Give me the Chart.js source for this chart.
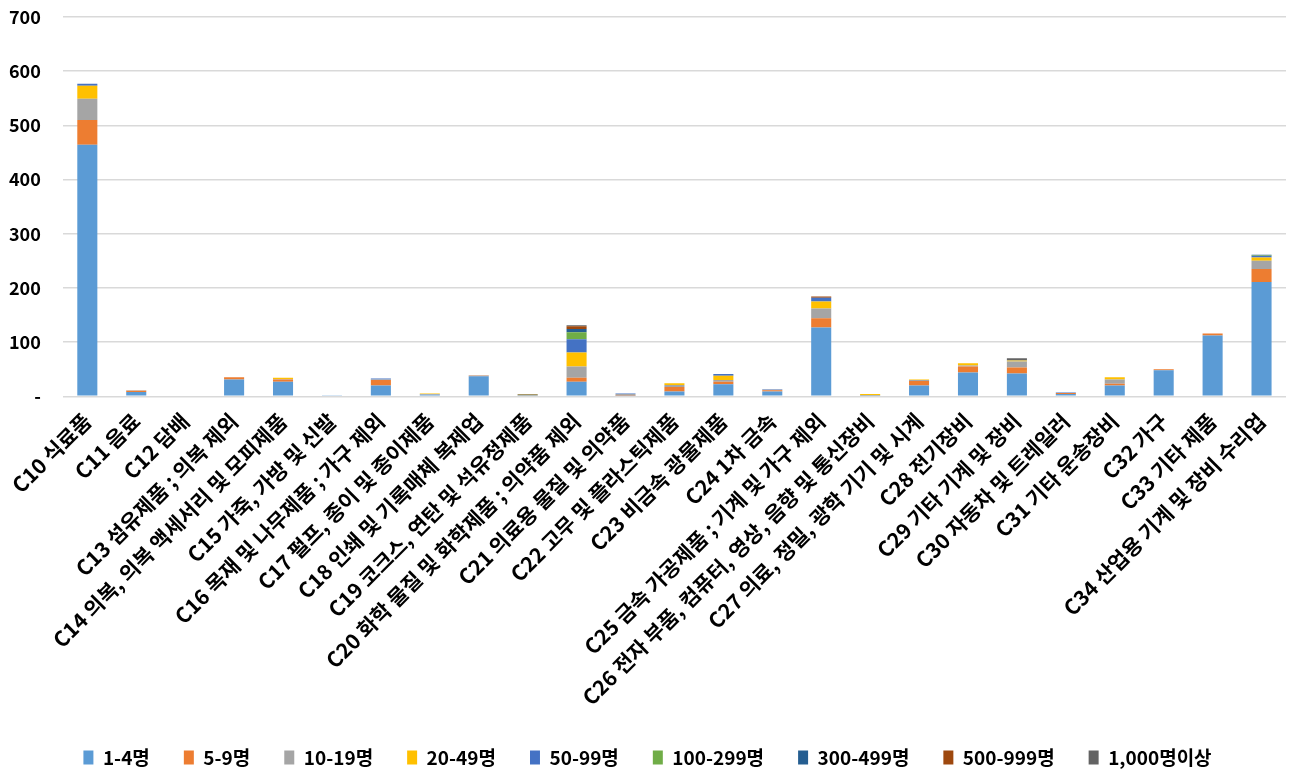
<!DOCTYPE html>
<html>
<head>
<meta charset="utf-8">
<script src="https://cdn.jsdelivr.net/npm/chart.js@4"></script>
<style>
  body { margin: 0; background: #fff; }
  #wrap { width: 1298px; height: 783px; }
</style>
</head>
<body>
<div id="wrap"><canvas id="bizChart"></canvas></div>
<script>
var categories = [
  'C10 식료품', 'C11 음료', 'C12 담배', 'C13 섬유제품 ; 의복 제외',
  'C14 의복, 의복 액세서리 및 모피제품', 'C15 가죽, 가방 및 신발',
  'C16 목재 및 나무제품 ; 가구 제외', 'C17 펄프, 종이 및 종이제품',
  'C18 인쇄 및 기록매체 복제업', 'C19 코크스, 연탄 및 석유정제품',
  'C20 화학 물질 및 화학제품 ; 의약품 제외', 'C21 의료용 물질 및 의약품',
  'C22 고무 및 플라스틱제품', 'C23 비금속 광물제품', 'C24 1차 금속',
  'C25 금속 가공제품 ; 기계 및 가구 제외', 'C26 전자 부품, 컴퓨터, 영상, 음향 및 통신장비',
  'C27 의료, 정밀, 광학 기기 및 시계', 'C28 전기장비', 'C29 기타 기계 및 장비',
  'C30 자동차 및 트레일러', 'C31 기타 운송장비', 'C32 가구', 'C33 기타 제품',
  'C34 산업용 기계 및 장비 수리업'
];

var seriesNames = ['1-4명', '5-9명', '10-19명', '20-49명', '50-99명', '100-299명', '300-499명', '500-999명', '1,000명이상'];

//            C10  C11 C12 C13 C14 C15 C16 C17 C18 C19 C20 C21 C22 C23 C24 C25  C26 C27 C28 C29 C30 C31 C32 C33  C34
var s1to4     = [464, 8, 0, 31, 27, 2, 20, 3, 37, 1, 27, 1, 9, 22, 9, 127, 1, 20, 44, 42, 4, 20, 48, 112, 211];
var s5to9     = [46, 2, 0, 4, 4, 0, 10, 0, 1, 0, 7, 1, 8, 5, 2, 17, 0, 8, 11, 11, 2, 3, 2, 4, 24];
var s10to19   = [39, 1, 0, 0, 1, 0, 1, 1, 1, 1, 21, 2, 4, 3, 1, 18, 1, 2, 2, 11, 0, 8, 0, 0, 15];
var s20to49   = [24, 0, 0, 0, 2, 0, 0, 1, 0, 1, 26, 0, 3, 8, 0, 13, 2, 1, 4, 2, 0, 4, 0, 0, 6];
var s50to99   = [4, 0, 0, 0, 0, 0, 2, 0, 0, 0, 24, 1, 0, 3, 1, 7, 0, 0, 0, 1, 1, 0, 0, 0, 3];
var s100to299 = [0, 0, 0, 0, 0, 0, 0, 0, 0, 0, 13, 0, 0, 0, 0, 0, 0, 0, 0, 0, 0, 0, 0, 0, 1];
var s300to499 = [0, 0, 0, 0, 0, 0, 0, 0, 0, 0, 6, 0, 0, 0, 0, 0, 0, 0, 0, 0, 0, 0, 0, 0, 1];
var s500to999 = [0, 0, 0, 0, 0, 0, 0, 0, 0, 0, 5, 0, 0, 0, 0, 2, 0, 0, 0, 0, 0, 0, 0, 0, 0];
var s1000plus = [0, 0, 0, 0, 0, 0, 0, 0, 0, 1, 2, 0, 0, 0, 0, 0, 0, 0, 0, 3, 0, 0, 0, 0, 0];

var yTicks = [0, 100, 200, 300, 400, 500, 600, 700];

var colors = ['#5B9BD5', '#ED7D31', '#A5A5A5', '#FFC000', '#4472C4', '#70AD47', '#255E91', '#9E480E', '#636363'];
var seriesData = [s1to4, s5to9, s10to19, s20to49, s50to99, s100to299, s300to499, s500to999, s1000plus];

var datasets = [];
for (var i = 0; i < seriesNames.length; i++) {
  datasets.push({
    label: seriesNames[i],
    data: seriesData[i],
    backgroundColor: colors[i],
    borderWidth: 0,
    categoryPercentage: 1,
    barPercentage: 0.41
  });
}

var family = "'Noto Sans CJK KR', 'Noto Sans', sans-serif";
var yFont = { family: family, size: 18, weight: 'bold' };
var xFont = { family: family, size: 21, weight: 'bold' };
var legendFont = { family: family, size: 19, weight: 'bold' };
var yPad = 22;

var ctx = document.getElementById('bizChart');
var chart = new Chart(ctx, {
  type: 'bar',
  data: { labels: categories, datasets: datasets },
  options: {
    responsive: true,
    maintainAspectRatio: false,
    animation: false,
    layout: { padding: { left: 9, right: 12, top: 4, bottom: 6 } },
    plugins: {
      tooltip: { enabled: false },
      legend: {
        position: 'bottom',
        labels: { font: legendFont, color: '#000', boxWidth: 10, boxHeight: 14, padding: 34 }
      }
    },
    scales: {
      x: {
        stacked: true,
        grid: { display: false },
        border: { display: false },
        ticks: { font: xFont, color: '#000', minRotation: 45, maxRotation: 45, autoSkip: false, padding: 4 },
        afterFit: function(axis) {
          // let the first slanted label hang left instead of pushing the plot right
          axis.paddingLeft = 0;
        }
      },
      y: {
        stacked: true,
        min: 0,
        max: 700,
        afterBuildTicks: function(axis) {
          axis.ticks = yTicks.map(function(v) { return { value: v }; });
        },
        afterFit: function(axis) {
          // chart.js counts tick padding twice in the width
          axis.width = axis.width - yPad;
          axis.paddingTop = 17;
          axis.paddingBottom = 11;
        },
        grid: { color: '#d9d9d9', lineWidth: 1.5, drawTicks: false },
        border: { display: false },
        ticks: {
          font: yFont,
          color: '#000',
          padding: yPad,
          callback: function(v) { return v === 0 ? '-' : v; }
        }
      }
    }
  }
});
</script>
</body>
</html>
